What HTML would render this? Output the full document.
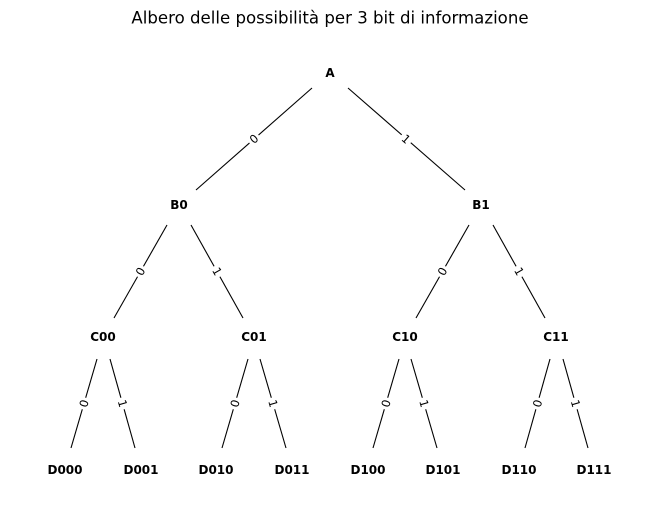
<!DOCTYPE html>
<html><head><meta charset="utf-8"><style>
html,body{margin:0;padding:0;background:#fff;}
svg{display:block;}
.n{font-family:"DejaVu Sans","Liberation Sans",sans-serif;font-weight:bold;font-size:12px;text-anchor:middle;dominant-baseline:central;fill:#000;}
.e{font-family:"DejaVu Sans","Liberation Sans",sans-serif;font-size:11.5px;text-anchor:middle;dominant-baseline:central;fill:#000;}
line{stroke:#000;stroke-width:1.1;}
</style></head><body>
<svg width="660" height="521" viewBox="0 0 660 521" xmlns="http://www.w3.org/2000/svg">
<rect width="660" height="521" fill="#fff"/>
<text x="330" y="18" font-family="DejaVu Sans, Liberation Sans, sans-serif" font-size="16.6" text-anchor="middle" dominant-baseline="central">Albero delle possibilità per 3 bit di informazione</text>

<line x1="312" y1="88" x2="196" y2="190"/>
<line x1="348" y1="88" x2="465" y2="190"/>
<line x1="167" y1="225" x2="114" y2="318"/>
<line x1="191" y1="225" x2="243" y2="318"/>
<line x1="469" y1="225" x2="416" y2="318"/>
<line x1="493" y1="225" x2="545" y2="318"/>
<line x1="97" y1="359" x2="71" y2="448"/>
<line x1="110" y1="359" x2="135" y2="448"/>
<line x1="248" y1="359" x2="222" y2="448"/>
<line x1="260" y1="359" x2="286" y2="448"/>
<line x1="399" y1="359" x2="373" y2="448"/>
<line x1="411" y1="359" x2="437" y2="448"/>
<line x1="550" y1="359" x2="525" y2="448"/>
<line x1="563" y1="359" x2="588" y2="448"/>

<g transform="translate(254,139) rotate(-41.3)"><rect x="-6" y="-7" width="12" height="14" fill="#fff"/><text class="e">0</text></g>
<g transform="translate(406,139) rotate(41.3)"><rect x="-6" y="-7" width="12" height="14" fill="#fff"/><text class="e">1</text></g>
<g transform="translate(140.5,271.5) rotate(-60.3)"><rect x="-6" y="-7" width="12" height="14" fill="#fff"/><text class="e">0</text></g>
<g transform="translate(217,271.5) rotate(60.3)"><rect x="-6" y="-7" width="12" height="14" fill="#fff"/><text class="e">1</text></g>
<g transform="translate(442.5,271.5) rotate(-60.3)"><rect x="-6" y="-7" width="12" height="14" fill="#fff"/><text class="e">0</text></g>
<g transform="translate(519,271.5) rotate(60.3)"><rect x="-6" y="-7" width="12" height="14" fill="#fff"/><text class="e">1</text></g>

<g transform="translate(84,403.5) rotate(-73.7)"><rect x="-6" y="-7" width="12" height="14" fill="#fff"/><text class="e">0</text></g>
<g transform="translate(122.5,403.5) rotate(73.7)"><rect x="-6" y="-7" width="12" height="14" fill="#fff"/><text class="e">1</text></g>
<g transform="translate(235,403.5) rotate(-73.7)"><rect x="-6" y="-7" width="12" height="14" fill="#fff"/><text class="e">0</text></g>
<g transform="translate(273,403.5) rotate(73.7)"><rect x="-6" y="-7" width="12" height="14" fill="#fff"/><text class="e">1</text></g>
<g transform="translate(386,403.5) rotate(-73.7)"><rect x="-6" y="-7" width="12" height="14" fill="#fff"/><text class="e">0</text></g>
<g transform="translate(424,403.5) rotate(73.7)"><rect x="-6" y="-7" width="12" height="14" fill="#fff"/><text class="e">1</text></g>
<g transform="translate(537.5,403.5) rotate(-73.7)"><rect x="-6" y="-7" width="12" height="14" fill="#fff"/><text class="e">0</text></g>
<g transform="translate(575.5,403.5) rotate(73.7)"><rect x="-6" y="-7" width="12" height="14" fill="#fff"/><text class="e">1</text></g>

<text class="n" x="330" y="73">A</text>
<text class="n" x="179" y="205">B0</text>
<text class="n" x="481" y="205">B1</text>
<text class="n" x="103" y="337">C00</text>
<text class="n" x="254" y="337">C01</text>
<text class="n" x="405" y="337">C10</text>
<text class="n" x="556" y="337">C11</text>
<text class="n" x="65" y="470">D000</text>
<text class="n" x="141" y="470">D001</text>
<text class="n" x="216" y="470">D010</text>
<text class="n" x="292" y="470">D011</text>
<text class="n" x="368" y="470">D100</text>
<text class="n" x="443" y="470">D101</text>
<text class="n" x="519" y="470">D110</text>
<text class="n" x="594" y="470">D111</text>
</svg>
</body></html>
